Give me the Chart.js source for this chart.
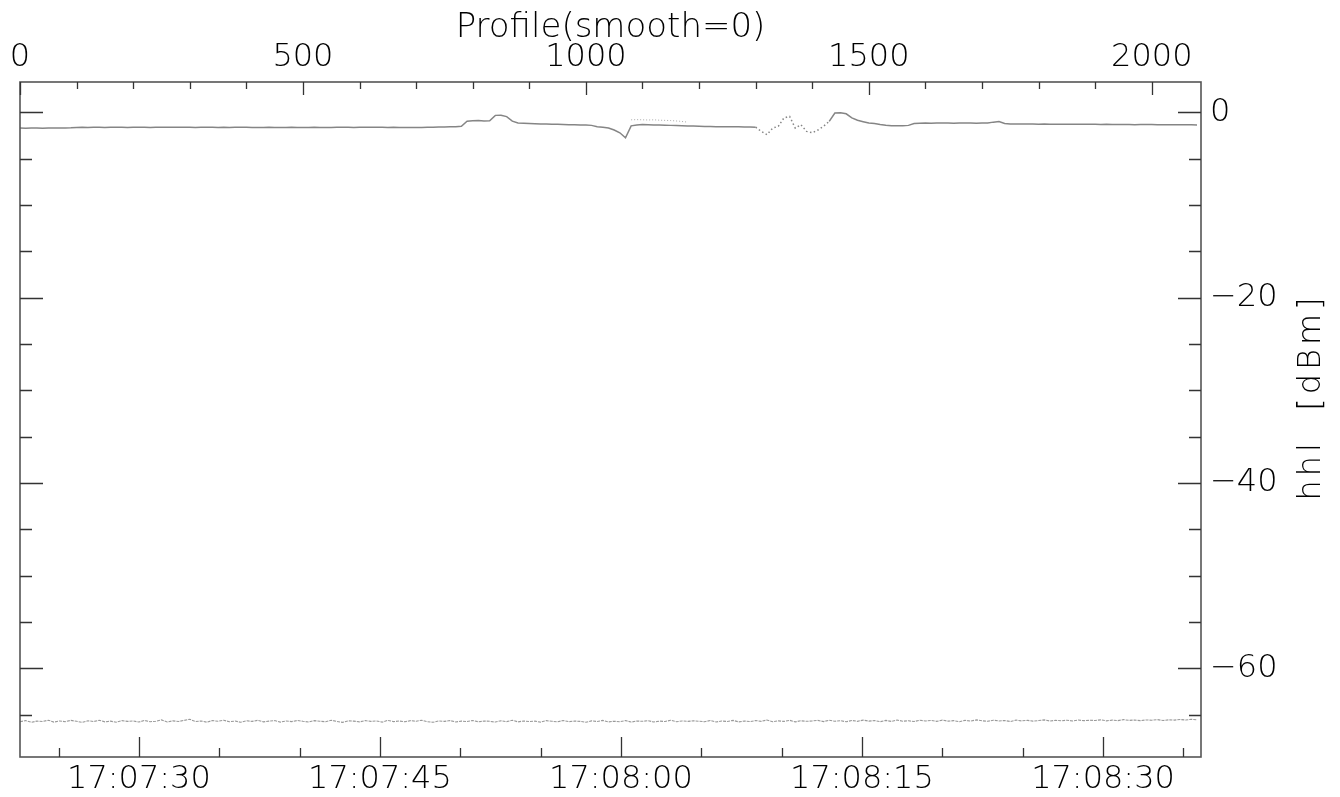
<!DOCTYPE html>
<html lang="en">
<head>
    <meta charset="UTF-8">
    <title>Profile(smooth=0)</title>
    <script src="https://cdn.jsdelivr.net/npm/chart.js"></script>
    <style>
        html, body {
            margin: 0;
            padding: 0;
            background: #fff;
        }
        #chart {
            display: block;
        }
    </style>
</head>
<body>
    <canvas id="chart" width="1340" height="797"></canvas>
    <script>
        // profile numbers run 0, 10, 20 ... (one sample kept every 10 profiles)
        const profileStep = 10;

        const upperDbm = [
            -1.69, -1.70, -1.68, -1.69, -1.70, -1.69, -1.68, -1.69, -1.68, -1.66,
            -1.62, -1.61, -1.62, -1.60, -1.61, -1.62, -1.61, -1.60, -1.61, -1.62,
            -1.61, -1.60, -1.61, -1.62, -1.61, -1.60, -1.59, -1.60, -1.61, -1.60,
            -1.61, -1.62, -1.61, -1.60, -1.61, -1.62, -1.61, -1.62, -1.61, -1.60,
            -1.61, -1.62, -1.63, -1.62, -1.61, -1.62, -1.63, -1.62, -1.61, -1.62,
            -1.63, -1.62, -1.61, -1.62, -1.63, -1.62, -1.61, -1.60, -1.61, -1.62,
            -1.61, -1.60, -1.59, -1.60, -1.61, -1.62, -1.61, -1.62, -1.63, -1.62,
            -1.64, -1.62, -1.60, -1.59, -1.58, -1.57, -1.56, -1.55, -1.50, -0.95,
            -0.90, -0.88, -0.92, -0.90, -0.32, -0.30, -0.45, -0.95, -1.15, -1.17,
            -1.20, -1.22, -1.24, -1.25, -1.27, -1.28, -1.30, -1.32, -1.33, -1.35,
            -1.37, -1.40, -1.55, -1.60, -1.68, -1.90, -2.20, -2.75, -1.45, -1.35,
            -1.30, -1.32, -1.35, -1.36, -1.38, -1.40, -1.42, -1.44, -1.46, -1.48,
            -1.50, -1.52, -1.53, -1.54, -1.55, -1.55, -1.56, -1.56, -1.57, -1.58,
            -1.60, -2.05, -2.40, -1.70, -1.50, -0.60, -0.43, -1.70, -1.33, -2.05,
            -2.20, -1.90, -1.50, -0.97, -0.07, -0.05, -0.15, -0.60, -0.85, -1.00,
            -1.15, -1.20, -1.30, -1.38, -1.43, -1.45, -1.43, -1.40, -1.20, -1.16,
            -1.15, -1.16, -1.15, -1.14, -1.15, -1.16, -1.15, -1.14, -1.15, -1.16,
            -1.15, -1.14, -1.05, -0.98, -1.20, -1.24, -1.25, -1.26, -1.25, -1.26,
            -1.27, -1.26, -1.27, -1.28, -1.27, -1.28, -1.29, -1.28, -1.27, -1.28,
            -1.29, -1.30, -1.29, -1.30, -1.31, -1.30, -1.31, -1.32, -1.31, -1.30,
            -1.31, -1.32, -1.33, -1.32, -1.33, -1.34, -1.33, -1.34, -1.35
        ];

        const lowerDbm = [
            -65.75, -65.62, -65.80, -65.68, -65.72, -65.58, -65.78, -65.66, -65.74, -65.60,
            -65.70, -65.82, -65.64, -65.72, -65.59, -65.76, -65.68, -65.80, -65.63, -65.71,
            -65.66, -65.78, -65.61, -65.74, -65.69, -65.55, -65.77, -65.65, -65.72, -65.60,
            -65.48, -65.73, -65.66, -65.79, -65.62, -65.70, -65.58, -65.75, -65.67, -65.80,
            -65.64, -65.71, -65.59, -65.76, -65.68, -65.62, -65.79, -65.66, -65.73, -65.61,
            -65.70, -65.77, -65.63, -65.69, -65.74, -65.58, -65.72, -65.81, -65.65, -65.68,
            -65.76, -65.62, -65.71, -65.66, -65.79, -65.60, -65.73, -65.67, -65.75, -65.63,
            -65.69, -65.58, -65.74, -65.80, -65.66, -65.71, -65.62, -65.77, -65.68, -65.72,
            -65.61, -65.75, -65.67, -65.70, -65.78, -65.64, -65.73, -65.59, -65.76, -65.66,
            -65.72, -65.68, -65.79, -65.63, -65.70, -65.75, -65.61, -65.74, -65.67, -65.71,
            -65.80, -65.65, -65.72, -65.60, -65.76, -65.69, -65.74, -65.62, -65.78, -65.67,
            -65.70, -65.63, -65.77, -65.68, -65.72, -65.58, -65.75, -65.66, -65.71, -65.64,
            -65.69, -65.74, -65.61, -65.78, -65.66, -65.72, -65.60, -65.76, -65.67, -65.73,
            -65.62, -65.70, -65.56, -65.74, -65.65, -65.71, -65.59, -65.76, -65.64, -65.70,
            -65.66, -65.60, -65.73, -65.58, -65.69, -65.63, -65.75, -65.61, -65.70, -65.57,
            -65.68, -65.62, -65.74, -65.60, -65.71, -65.56, -65.69, -65.64, -65.72, -65.59,
            -65.66, -65.61, -65.70, -65.57, -65.68, -65.63, -65.74, -65.60, -65.67, -65.55,
            -65.64, -65.70, -65.58, -65.66, -65.61, -65.72, -65.57, -65.65, -65.60, -65.68,
            -65.62, -65.55, -65.67, -65.60, -65.64, -65.58, -65.66, -65.56, -65.63, -65.59,
            -65.61, -65.54, -65.65, -65.57, -65.62, -65.52, -65.60, -65.56, -65.63, -65.55,
            -65.58, -65.52, -65.61, -65.54, -65.57, -65.50, -65.56, -65.48, -65.53
        ];

        // faint second trace just after the dip near profile 1070
        const trailProfile = [1080, 1090, 1100, 1110, 1120, 1130, 1140, 1150, 1165, 1180];
        const trailDbm = [-0.80, -0.78, -0.80, -0.82, -0.80, -0.84, -0.86, -0.88, -0.95, -1.05];

        // axis ticks
        const profileTicks = [0, 100, 200, 300, 400, 500, 600, 700, 800, 900, 1000,
            1100, 1200, 1300, 1400, 1500, 1600, 1700, 1800, 1900, 2000];
        const profileLabels = [0, 500, 1000, 1500, 2000];
        // seconds of the day: 17:07:25 ... 17:08:35 every 5 s
        const timeTicks = [61645, 61650, 61655, 61660, 61665, 61670, 61675, 61680,
            61685, 61690, 61695, 61700, 61705, 61710, 61715];
        const timeLabels = ['17:07:30', '17:07:45', '17:08:00', '17:08:15', '17:08:30'];
        const dbTicks = [0, -5, -10, -15, -20, -25, -30, -35, -40, -45, -50, -55, -60, -65];
        const dbLabels = [0, -20, -40, -60];

        const profileMax = 2087;
        const timeMin = 61642.6;   // 17:07:22.6
        const timeMax = 61716.1;   // 17:08:36.1
        const dbMin = -69.55;
        const dbMax = 3.28;

        const fontFamily = "'DejaVu Sans', sans-serif";
        const traceColor = '#858585';

        function toClock(sec) {
            const h = Math.floor(sec / 3600);
            const m = Math.floor((sec % 3600) / 60);
            const s = Math.round(sec % 60);
            return [h, m, s].map(n => String(n).padStart(2, '0')).join(':');
        }

        const upperPoints = upperDbm.map((v, i) => ({ x: i * profileStep, y: v }));
        const lowerPoints = lowerDbm.map((v, i) => ({ x: i * profileStep, y: v }));
        const trailPoints = trailProfile.map((p, i) => ({ x: p, y: trailDbm[i] }));

        // frame, inward ticks on all four sides and the rotated right title
        const frameTicks = {
            id: 'frameTicks',
            afterDraw(chart) {
                const { ctx, chartArea: a, scales } = chart;
                ctx.save();
                ctx.strokeStyle = '#555';
                ctx.lineWidth = 1.6;
                ctx.strokeRect(a.left, a.top, a.right - a.left, a.bottom - a.top);

                ctx.strokeStyle = '#333';
                ctx.lineWidth = 1.3;
                ctx.beginPath();
                profileTicks.forEach(v => {
                    const x = Math.round(scales.x.getPixelForValue(v)) + 0.5;
                    const len = profileLabels.includes(v) ? 13 : 7;
                    ctx.moveTo(x, a.top);
                    ctx.lineTo(x, a.top + len);
                });
                timeTicks.forEach(v => {
                    const x = Math.round(scales.x2.getPixelForValue(v)) + 0.5;
                    const len = timeLabels.includes(toClock(v)) ? 20 : 9;
                    ctx.moveTo(x, a.bottom);
                    ctx.lineTo(x, a.bottom - len);
                });
                dbTicks.forEach(v => {
                    const y = Math.round(scales.y.getPixelForValue(v)) + 0.5;
                    const len = dbLabels.includes(v) ? 23 : 12;
                    ctx.moveTo(a.left, y);
                    ctx.lineTo(a.left + len, y);
                    ctx.moveTo(a.right, y);
                    ctx.lineTo(a.right - len, y);
                });
                ctx.stroke();

                ctx.translate(1312, 397);
                ctx.rotate(-Math.PI / 2);
                ctx.font = '200 32px ' + fontFamily;
                ctx.fillStyle = '#000';
                ctx.textAlign = 'center';
                ctx.textBaseline = 'middle';
                ctx.letterSpacing = '4px';
                ctx.fillText('hhl  [dBm]', 0, 0);
                ctx.restore();
            }
        };

        const tickFont = { family: fontFamily, size: 32, weight: '200' };

        new Chart(document.getElementById('chart'), {
            type: 'line',
            data: {
                datasets: [
                    {
                        label: 'upper',
                        data: upperPoints,
                        xAxisID: 'x',
                        yAxisID: 'y',
                        borderColor: traceColor,
                        borderWidth: 1.5,
                        pointRadius: 0,
                        tension: 0,
                        segment: {
                            borderDash: ctx => (ctx.p0.parsed.x >= 1300 && ctx.p0.parsed.x < 1430) ? [1.5, 2.5] : undefined
                        }
                    },
                    {
                        label: 'trail',
                        data: trailPoints,
                        xAxisID: 'x',
                        yAxisID: 'y',
                        showLine: true,
                        borderColor: '#aaa',
                        borderWidth: 1,
                        borderDash: [1, 2],
                        pointRadius: 0
                    },
                    {
                        label: 'lower',
                        data: lowerPoints,
                        xAxisID: 'x',
                        yAxisID: 'y',
                        borderColor: '#999',
                        borderWidth: 1.1,
                        borderDash: [3, 1],
                        pointRadius: 0,
                        tension: 0
                    }
                ]
            },
            options: {
                responsive: false,
                animation: false,
                devicePixelRatio: 1,
                layout: { padding: { left: 20, top: 0, right: 0, bottom: 0 } },
                plugins: {
                    legend: { display: false },
                    tooltip: { enabled: false }
                },
                scales: {
                    x: {
                        type: 'linear',
                        position: 'top',
                        min: 0,
                        max: profileMax,
                        grid: { display: false, drawTicks: false },
                        border: { display: false },
                        afterBuildTicks: s => { s.ticks = profileTicks.map(v => ({ value: v })); },
                        afterFit: s => { s.height = 82; },
                        ticks: {
                            autoSkip: false,
                            maxRotation: 0,
                            minRotation: 0,
                            padding: 5,
                            color: '#000',
                            font: tickFont,
                            callback: v => profileLabels.includes(v) ? String(v) : ''
                        },
                        title: {
                            display: true,
                            text: 'Profile(smooth=0)',
                            color: '#000',
                            font: { family: fontFamily, size: 34, weight: '200' },
                            padding: { top: 8, bottom: 0 }
                        }
                    },
                    x2: {
                        type: 'linear',
                        position: 'bottom',
                        min: timeMin,
                        max: timeMax,
                        grid: { display: false, drawTicks: false },
                        border: { display: false },
                        afterBuildTicks: s => { s.ticks = timeTicks.map(v => ({ value: v })); },
                        afterFit: s => { s.height = 40; },
                        ticks: {
                            autoSkip: false,
                            maxRotation: 0,
                            minRotation: 0,
                            padding: 3,
                            color: '#000',
                            font: tickFont,
                            callback: v => timeLabels.includes(toClock(v)) ? toClock(v) : ''
                        }
                    },
                    y: {
                        type: 'linear',
                        position: 'right',
                        min: dbMin,
                        max: dbMax,
                        grid: { display: false, drawTicks: false },
                        border: { display: false },
                        afterBuildTicks: s => { s.ticks = dbTicks.map(v => ({ value: v })); },
                        afterFit: s => { s.width = 139; },
                        ticks: {
                            autoSkip: false,
                            padding: 9,
                            color: '#000',
                            font: tickFont,
                            callback: v => dbLabels.includes(v) ? (v === 0 ? '0' : '\u2212' + Math.abs(v)) : ''
                        }
                    }
                }
            },
            plugins: [frameTicks]
        });
    </script>
</body>
</html>
